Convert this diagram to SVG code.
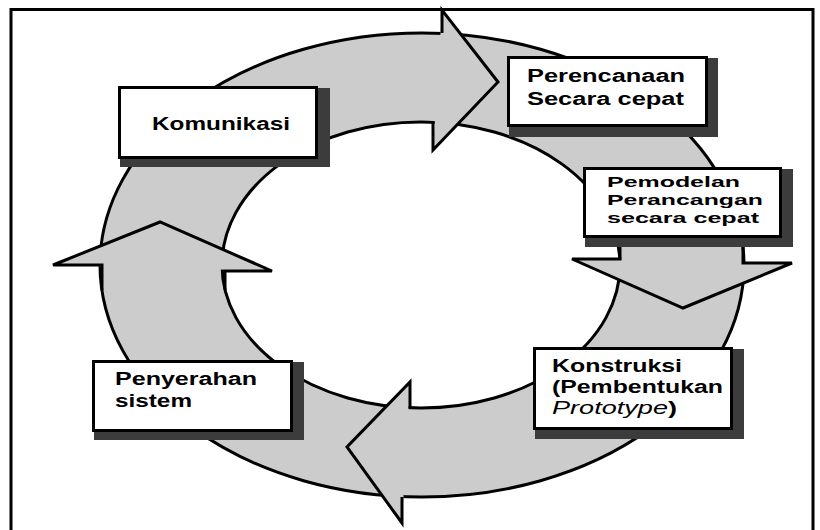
<svg xmlns="http://www.w3.org/2000/svg" width="820" height="530" viewBox="0 0 820 530">
<style>
.ring{fill:#cccccc;stroke:#000;stroke-width:3;fill-rule:evenodd}
.head{fill:#cccccc;stroke:none}
.edge{fill:none;stroke:#000;stroke-width:3;stroke-linejoin:miter}
.shadow{fill:#3c3c3c}
.box{fill:#fff;stroke:#000;stroke-width:3}
.lbl{font-family:"Liberation Sans",Arial,sans-serif;font-weight:bold;font-size:17.5px;fill:#000}
.sm{font-size:15.5px}
.frame{fill:none;stroke:#000;stroke-width:3}
</style>
<rect width="820" height="530" fill="#fff"/>
<path class="frame" d="M11,531 V9.5 H813 V531"/>
<g id="connectors">
<path class="ring" d="M100,265 A322,232 0 1 0 744,265 A322,232 0 1 0 100,265 Z M222,265 A199,143 0 1 0 620,265 A199,143 0 1 0 222,265 Z"/>
<polygon class="head" points="442,10 498,82 433,150"/>
<polyline class="edge" points="442,33 442,10 498,82 433,150 433,123"/>
<polygon class="head" points="572,259 792,263 683,308"/>
<polyline class="edge" points="620,245 620,259 572,259 683,308 792,263 743,263 743,245"/>
<polygon class="head" points="410,382 347,447 402,523"/>
<polyline class="edge" points="410,408 410,382 347,447 402,523 402,497"/>
<polygon class="head" points="53,265 160,222 272,271"/>
<polyline class="edge" points="102,290 102,265 53,265 160,222 272,271 225,271 225,290"/>
</g>
<g id="komunikasi">
<rect class="shadow" x="120" y="88" width="210" height="79"/>
<rect class="box" x="119.5" y="87.5" width="197" height="70"/>
<text class="lbl" x="152" y="130" font-size="18.5" textLength="138" lengthAdjust="spacingAndGlyphs">Komunikasi</text>
</g>
<g id="perencanaan">
<rect class="shadow" x="509" y="58" width="209" height="79"/>
<rect class="box" x="508.5" y="57.5" width="198" height="68"/>
<text class="lbl" x="527" y="82" textLength="158" lengthAdjust="spacingAndGlyphs">Perencanaan</text>
<text class="lbl" x="527" y="105" textLength="157" lengthAdjust="spacingAndGlyphs">Secara cepat</text>
</g>
<g id="pemodelan">
<rect class="shadow" x="585" y="169" width="208" height="78"/>
<rect class="box" x="584.5" y="168.5" width="196" height="68"/>
<text class="lbl sm" x="607" y="187" textLength="133" lengthAdjust="spacingAndGlyphs">Pemodelan</text>
<text class="lbl sm" x="607" y="205" textLength="156" lengthAdjust="spacingAndGlyphs">Perancangan</text>
<text class="lbl sm" x="607" y="223" textLength="152" lengthAdjust="spacingAndGlyphs">secara cepat</text>
</g>
<g id="konstruksi">
<rect class="shadow" x="535" y="349" width="209" height="90"/>
<rect class="box" x="534.5" y="348.5" width="197" height="80"/>
<text class="lbl" x="552" y="372" textLength="130" lengthAdjust="spacingAndGlyphs">Konstruksi</text>
<text class="lbl" x="552" y="393" textLength="171" lengthAdjust="spacingAndGlyphs">(Pembentukan</text>
<text class="lbl" x="552" y="414" textLength="125" lengthAdjust="spacingAndGlyphs"><tspan font-style="italic" font-weight="normal">Prototype</tspan>)</text>
</g>
<g id="penyerahan">
<rect class="shadow" x="94" y="362" width="210" height="78"/>
<rect class="box" x="93.5" y="361.5" width="198" height="69"/>
<text class="lbl" x="115" y="385" textLength="142" lengthAdjust="spacingAndGlyphs">Penyerahan</text>
<text class="lbl" x="115" y="407" textLength="77" lengthAdjust="spacingAndGlyphs">sistem</text>
</g>
</svg>
